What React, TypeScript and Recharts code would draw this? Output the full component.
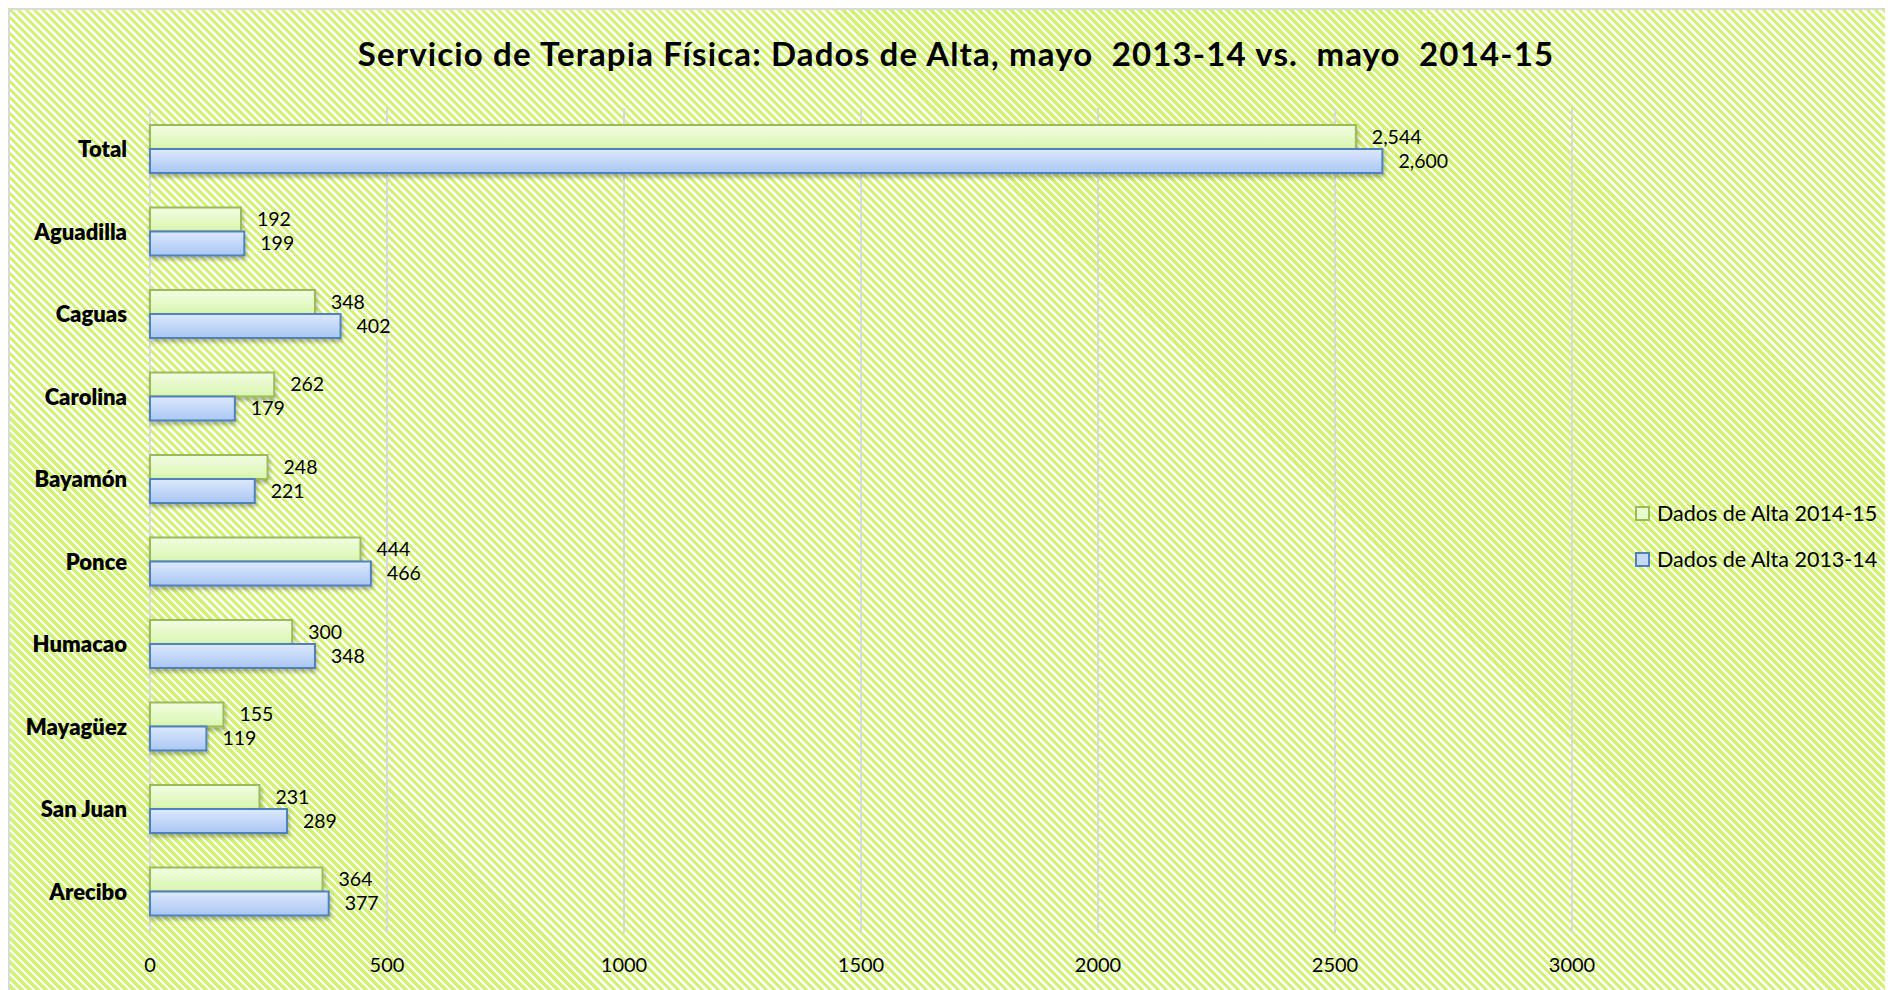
import React from 'react';
import { BarChart, Bar, XAxis, YAxis, CartesianGrid, LabelList, Legend } from 'recharts';

const categories = ['Total', 'Aguadilla', 'Caguas', 'Carolina', 'Bayamón', 'Ponce', 'Humacao', 'Mayagüez', 'San Juan', 'Arecibo'];
const alta201415 = [2544, 192, 348, 262, 248, 444, 300, 155, 231, 364];
const alta201314 = [2600, 199, 402, 179, 221, 466, 348, 119, 289, 377];
const xTicks = [0, 500, 1000, 1500, 2000, 2500, 3000];
const seriesNames = ['Dados de Alta 2014-15', 'Dados de Alta 2013-14'];
const title = 'Servicio de Terapia Física: Dados de Alta, mayo  2013-14 vs.  mayo  2014-15';

const data = categories.map((c, i) => ({ name: c, a: alta201415[i], b: alta201314[i] }));

const FONT = 'Lato, "Open Sans", sans-serif';

const legendOrder = ['a', 'b'];
const legendStyles: Record<string, { fill: string; stroke: string }> = {
  a: { fill: '#e8fbcf', stroke: '#9bbb59' },
  b: { fill: '#c6d9f7', stroke: '#4f81bd' },
};

const ShadowBar = (props: any) => {
  const { x, y, width, height, fill, stroke } = props;
  if (width == null || height == null) return null;
  return (
    <rect
      x={x}
      y={y}
      width={Math.max(0, width)}
      height={height}
      fill={fill}
      stroke={stroke}
      strokeWidth={2}
      filter="url(#barShadow)"
    />
  );
};

const fmt = (v: any) => Number(v).toLocaleString('en-US');

const LegendContent = (props: any) => {
  const payload = [...(props.payload || [])].sort(
    (p: any, q: any) => legendOrder.indexOf(p.dataKey) - legendOrder.indexOf(q.dataKey)
  );
  return (
    <div style={{ fontFamily: FONT }}>
      {payload.map((p: any) => {
        const st = legendStyles[p.dataKey] || { fill: '#fff', stroke: '#000' };
        return (
          <div key={p.dataKey} style={{ height: 46, display: 'flex', alignItems: 'center' }}>
            <span
              style={{
                display: 'inline-block',
                width: 11,
                height: 11,
                background: st.fill,
                border: `2px solid ${st.stroke}`,
                marginRight: 7,
              }}
            />
            <span style={{ fontSize: 21.5, color: '#000', whiteSpace: 'nowrap' }}>{p.value}</span>
          </div>
        );
      })}
    </div>
  );
};

export default function App() {
  return (
    <div
      style={{
        position: 'relative',
        width: 1885,
        height: 982,
        overflow: 'hidden',
        background:
          'repeating-linear-gradient(45deg, #ffffff 0px, #ffffff 2.6px, #d2f274 2.6px, #d2f274 5.66px)',
      }}
    >
      <div
        style={{
          position: 'absolute',
          left: 0,
          top: 0,
          right: 0,
          bottom: 0,
          borderTop: '2px solid #d9d9d9',
          borderLeft: '2px solid #d9d9d9',
          pointerEvents: 'none',
        }}
      />
      <div
        style={{
          position: 'absolute',
          left: 0,
          width: 1896,
          top: 25,
          textAlign: 'center',
          fontFamily: FONT,
          fontWeight: 700,
          fontSize: 33,
          letterSpacing: 1.15,
          whiteSpace: 'pre',
          color: '#000',
          lineHeight: '40px',
        }}
      >
        {title}
      </div>
      <BarChart
        width={1885}
        height={982}
        data={data}
        layout="vertical"
        margin={{ top: 100, right: 321, bottom: 17, left: 0 }}
        barGap={0}
        barSize={24}
      >
        <defs>
          <linearGradient id="gradGreen" x1="0" y1="0" x2="0" y2="1">
            <stop offset="0%" stopColor="#f2fde3" />
            <stop offset="100%" stopColor="#d9f5ae" />
          </linearGradient>
          <linearGradient id="gradBlue" x1="0" y1="0" x2="0" y2="1">
            <stop offset="0%" stopColor="#dde9fc" />
            <stop offset="100%" stopColor="#a9c6f4" />
          </linearGradient>
          <filter id="barShadow" x="-5%" y="-30%" width="110%" height="170%">
            <feDropShadow dx="1" dy="3" stdDeviation="2" floodColor="#000" floodOpacity="0.3" />
          </filter>
        </defs>
        <CartesianGrid horizontal={false} stroke="#d9d9d9" strokeWidth={2} />
        <XAxis
          type="number"
          domain={[0, 3000]}
          ticks={xTicks}
          axisLine={false}
          tickLine={false}
          tickMargin={19}
          height={40}
          tick={{ fontFamily: FONT, fontSize: 20, fill: '#000' }}
        />
        <YAxis
          type="category"
          dataKey="name"
          width={142}
          axisLine={false}
          tickLine={false}
          tickMargin={17}
          interval={0}
          tick={{ fontFamily: FONT, fontSize: 22, fontWeight: 800, fill: '#000' }}
        />
        <Legend
          layout="vertical"
          align="center"
          verticalAlign="middle"
          wrapperStyle={{ left: 1627, top: 482, width: 258 }}
          content={<LegendContent />}
        />
        <Bar
          dataKey="a"
          name={seriesNames[0]}
          fill="url(#gradGreen)"
          stroke="#9bbb59"
          shape={<ShadowBar />}
          isAnimationActive={false}
        >
          <LabelList
            dataKey="a"
            position="right"
            offset={16}
            formatter={fmt}
            style={{ fontFamily: FONT, fontSize: 19.5, fill: '#000' }}
          />
        </Bar>
        <Bar
          dataKey="b"
          name={seriesNames[1]}
          fill="url(#gradBlue)"
          stroke="#4f81bd"
          shape={<ShadowBar />}
          isAnimationActive={false}
        >
          <LabelList
            dataKey="b"
            position="right"
            offset={16}
            formatter={fmt}
            style={{ fontFamily: FONT, fontSize: 19.5, fill: '#000' }}
          />
        </Bar>
      </BarChart>
    </div>
  );
}
